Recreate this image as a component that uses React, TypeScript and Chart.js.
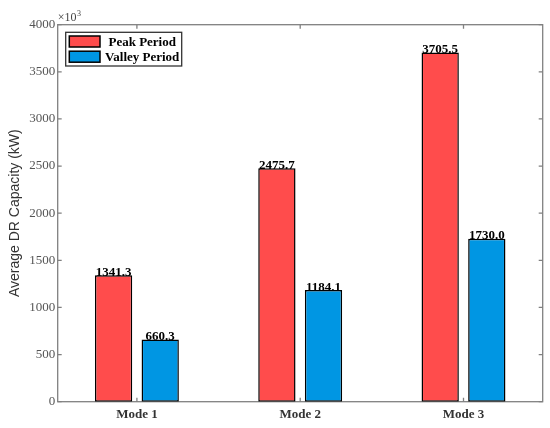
import React, { useEffect, useRef } from "react";
import { Chart, registerables } from "chart.js";

Chart.register(...registerables);

const categories = ["Mode 1", "Mode 2", "Mode 3"];
const peakValues = [1341.3, 2475.7, 3705.5];
const valleyValues = [660.3, 1184.1, 1730.0];
const seriesLabels = ["Peak Period", "Valley Period"];
const yTicks = [0, 500, 1000, 1500, 2000, 2500, 3000, 3500, 4000];

const SERIF = "'Liberation Serif', 'Times New Roman', serif";
const SANS = "'Liberation Sans', Arial, sans-serif";
const AXIS_GRAY = "#808080";

const framePlugin = {
  id: "frame",
  beforeDatasetsDraw(chart: any) {
    const { ctx, chartArea } = chart;
    const { left, top, right, bottom } = chartArea;
    ctx.save();
    ctx.strokeStyle = AXIS_GRAY;
    ctx.lineWidth = 1.3;
    ctx.strokeRect(left, top, right - left, bottom - top);
    ctx.beginPath();
    const ys = chart.scales.y;
    ys.ticks.forEach((t: any) => {
      const py = ys.getPixelForValue(t.value);
      ctx.moveTo(left, py);
      ctx.lineTo(left + 4, py);
      ctx.moveTo(right, py);
      ctx.lineTo(right - 4, py);
    });
    const xs = chart.scales.x;
    xs.ticks.forEach((t: any) => {
      const px = xs.getPixelForValue(t.value);
      ctx.moveTo(px, bottom);
      ctx.lineTo(px, bottom - 4);
      ctx.moveTo(px, top);
      ctx.lineTo(px, top + 4);
    });
    ctx.stroke();
    ctx.restore();
  },
  afterDatasetsDraw(chart: any) {
    const { ctx } = chart;
    ctx.save();
    ctx.fillStyle = "#000";
    ctx.font = `bold 13px ${SERIF}`;
    ctx.textAlign = "center";
    ctx.textBaseline = "alphabetic";
    chart.data.datasets.forEach((ds: any, di: number) => {
      const meta = chart.getDatasetMeta(di);
      meta.data.forEach((el: any, i: number) => {
        const v = ds.data[i].y;
        ctx.fillText(v.toFixed(1), el.x, el.y + 0.5);
      });
    });
    ctx.restore();
  },
  afterDraw(chart: any) {
    const { ctx, chartArea } = chart;
    const { left, top } = chartArea;
    ctx.save();
    // exponent label
    ctx.fillStyle = "#444";
    ctx.textAlign = "left";
    ctx.textBaseline = "alphabetic";
    ctx.font = `12px ${SERIF}`;
    ctx.fillText("×10", left, 21);
    const w = ctx.measureText("×10").width;
    ctx.font = `8px ${SERIF}`;
    ctx.fillText("3", left + w + 0.5, 15.5);

    // legend
    const bx = left + 8;
    const by = top + 7.6;
    const bw = 116;
    const bh = 33.7;
    ctx.fillStyle = "#fff";
    ctx.fillRect(bx, by, bw, bh);
    ctx.strokeStyle = "#333";
    ctx.lineWidth = 1.3;
    ctx.strokeRect(bx, by, bw, bh);
    ctx.font = `bold 13px ${SERIF}`;
    ctx.textAlign = "center";
    ctx.textBaseline = "middle";
    chart.data.datasets.forEach((ds: any, i: number) => {
      const sy = by + 3.7 + i * 15.2;
      ctx.fillStyle = ds.backgroundColor;
      ctx.fillRect(bx + 3.6, sy, 30.7, 11);
      ctx.strokeStyle = "#000";
      ctx.lineWidth = 1.5;
      ctx.strokeRect(bx + 3.6, sy, 30.7, 11);
      ctx.fillStyle = "#000";
      ctx.fillText(ds.label, bx + 76.5, sy + 6.5);
    });
    ctx.restore();
  },
};

export default function App() {
  const canvasRef = useRef<HTMLCanvasElement | null>(null);

  useEffect(() => {
    if (!canvasRef.current) return;
    const makeData = (vals: number[]) => vals.map((v, i) => ({ x: i + 1, y: v }));
    const chart = new Chart(canvasRef.current, {
      type: "bar",
      data: {
        datasets: [
          {
            label: seriesLabels[0],
            data: makeData(peakValues),
            backgroundColor: "#FF4C4C",
            borderColor: "#000",
            borderWidth: 1.5,
            borderSkipped: false,
            categoryPercentage: 0.571,
            barPercentage: 0.8,
          },
          {
            label: seriesLabels[1],
            data: makeData(valleyValues),
            backgroundColor: "#0096E3",
            borderColor: "#000",
            borderWidth: 1.5,
            borderSkipped: false,
            categoryPercentage: 0.571,
            barPercentage: 0.8,
          },
        ],
      } as any,
      options: {
        animation: false,
        responsive: false,
        maintainAspectRatio: false,
        layout: { padding: { left: 0, top: 24.7, right: 7.3, bottom: 0 } },
        plugins: {
          legend: { display: false },
          tooltip: { enabled: false },
        },
        scales: {
          x: {
            type: "linear",
            min: 0.515,
            max: 3.485,
            offset: false,
            afterBuildTicks: (s: any) => {
              s.ticks = categories.map((_, i) => ({ value: i + 1 }));
            },
            afterFit: (s: any) => {
              s.height = 26.3;
            },
            grid: { display: false, drawTicks: false },
            border: { display: false },
            ticks: {
              callback: (v: any) => categories[Number(v) - 1] ?? "",
              font: { family: SERIF, size: 13, weight: "bold" },
              color: "#333",
              padding: 5,
              maxRotation: 0,
              autoSkip: false,
            },
          },
          y: {
            min: 0,
            max: 4000,
            afterBuildTicks: (s: any) => {
              s.ticks = yTicks.map((v) => ({ value: v }));
            },
            afterFit: (s: any) => {
              s.width = 57.7;
            },
            grid: { display: false, drawTicks: false },
            border: { display: false },
            ticks: {
              font: { family: SERIF, size: 13 },
              color: "#555",
              padding: 2.5,
              callback: (v: any) => String(v),
            },
            title: {
              display: true,
              text: "Average DR Capacity (kW)",
              font: { family: SANS, size: 14 },
              color: "#333",
              padding: { top: 6.6, bottom: 0 },
            },
          },
        },
      } as any,
      plugins: [framePlugin],
    });
    return () => chart.destroy();
  }, []);

  return (
    <div style={{ position: "fixed", left: 0, top: 0, width: 550, height: 428, background: "#fff" }}>
      <canvas ref={canvasRef} width={550} height={428} />
    </div>
  );
}
